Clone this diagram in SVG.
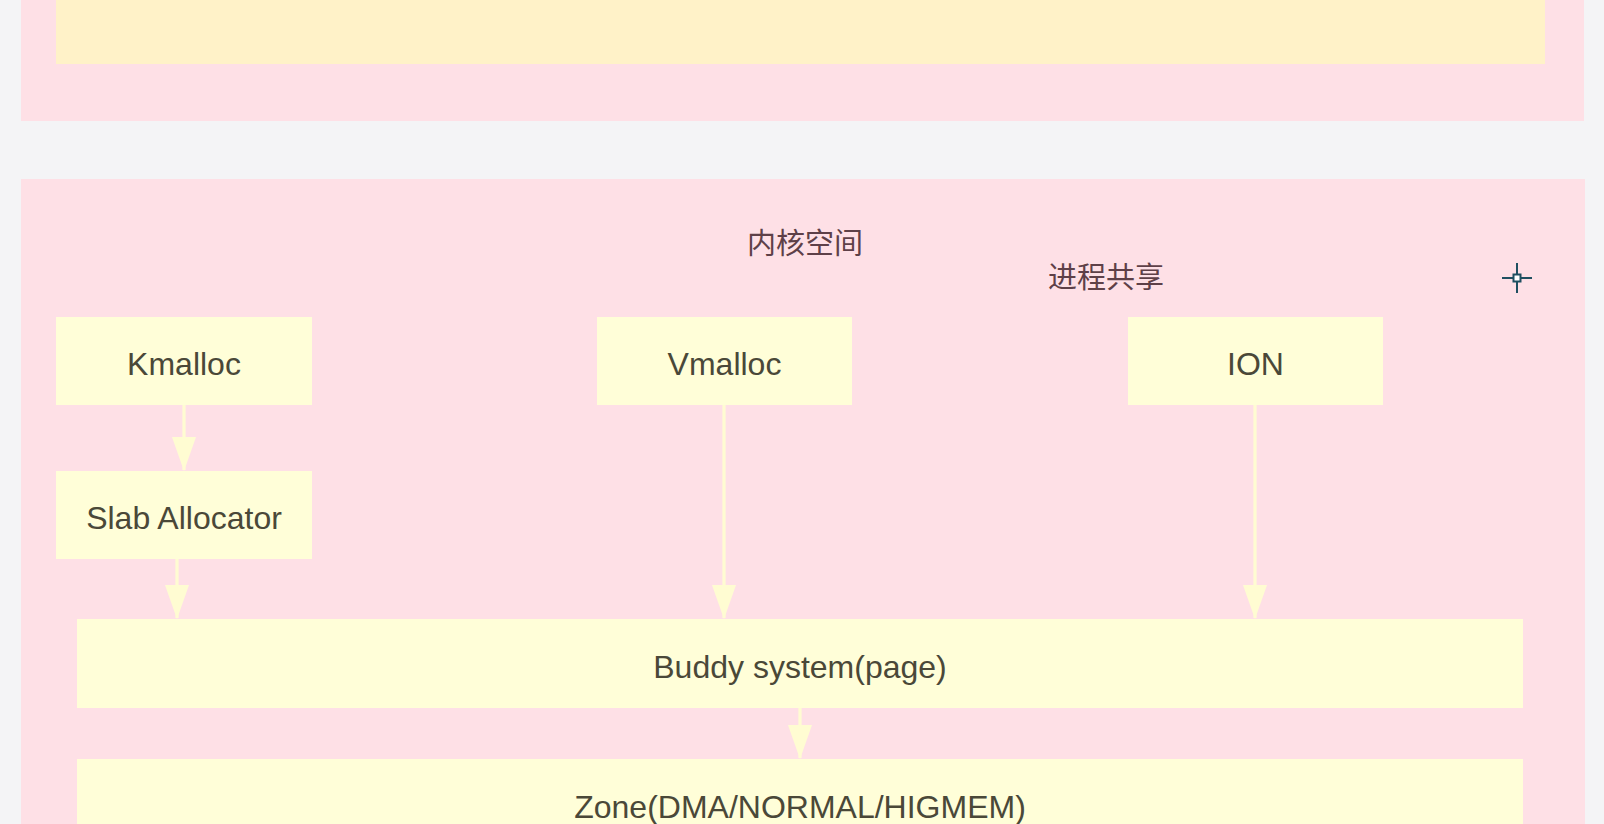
<svg xmlns="http://www.w3.org/2000/svg" width="1604" height="824" viewBox="0 0 1604 824">
  <style>
    .panel { fill: #fee0e6; }
    .box { fill: #fffed8; }
    .lbl { font-family: "Liberation Sans", Arial, sans-serif; font-size: 32px; fill: #4a4838; text-anchor: middle; }
    .cjk { font-family: "Noto Sans CJK SC", "Liberation Sans", sans-serif; font-size: 29px; fill: #5e4048; text-anchor: middle; }
    .conn { stroke: #fffcd2; stroke-width: 3.2; fill: none; }
  </style>
  <defs>
    <marker id="arr" markerUnits="userSpaceOnUse" markerWidth="34" markerHeight="24" viewBox="0 0 34 24" refX="33" refY="12" orient="auto">
      <path d="M0,0 L34,12 L0,24 Z" fill="#fffcd2"/>
    </marker>
  </defs>
  <rect x="0" y="0" width="1604" height="824" fill="#f4f4f6"/>

  <g id="user-space-panel">
    <rect class="panel" x="21" y="0" width="1563" height="121"/>
    <rect x="56" y="0" width="1489" height="64" fill="#fff2c8"/>
  </g>

  <g id="kernel-space-panel">
    <rect class="panel" x="21" y="179" width="1564" height="650"/>
    <text class="cjk" x="805" y="254">内核空间</text>
    <text class="cjk" x="1106" y="288">进程共享</text>
  </g>

  <g id="connectors">
    <line class="conn" x1="184" y1="405" x2="184" y2="470" marker-end="url(#arr)"/>
    <line class="conn" x1="177" y1="559" x2="177" y2="618" marker-end="url(#arr)"/>
    <line class="conn" x1="724" y1="405" x2="724" y2="618" marker-end="url(#arr)"/>
    <line class="conn" x1="1255" y1="405" x2="1255" y2="618" marker-end="url(#arr)"/>
    <line class="conn" x1="800" y1="708" x2="800" y2="758" marker-end="url(#arr)"/>
  </g>

  <g id="kmalloc">
    <rect class="box" x="56" y="317" width="256" height="88"/>
    <text class="lbl" x="184" y="375">Kmalloc</text>
  </g>
  <g id="vmalloc">
    <rect class="box" x="597" y="317" width="255" height="88"/>
    <text class="lbl" x="724.5" y="375">Vmalloc</text>
  </g>
  <g id="ion">
    <rect class="box" x="1128" y="317" width="255" height="88"/>
    <text class="lbl" x="1255.5" y="375">ION</text>
  </g>
  <g id="slab">
    <rect class="box" x="56" y="471" width="256" height="88"/>
    <text class="lbl" x="184" y="529">Slab Allocator</text>
  </g>
  <g id="buddy">
    <rect class="box" x="77" y="619" width="1446" height="89"/>
    <text class="lbl" x="800" y="678">Buddy system(page)</text>
  </g>
  <g id="zone">
    <rect class="box" x="77" y="759" width="1446" height="90"/>
    <text class="lbl" x="800" y="818">Zone(DMA/NORMAL/HIGMEM)</text>
  </g>

  <g id="cursor" stroke="#1f4f60" stroke-width="2" fill="none">
    <line x1="1517" y1="263" x2="1517" y2="293"/>
    <line x1="1502" y1="278" x2="1532" y2="278"/>
    <rect x="1513.5" y="274.5" width="7" height="7" fill="#ffffff"/>
  </g>
</svg>
